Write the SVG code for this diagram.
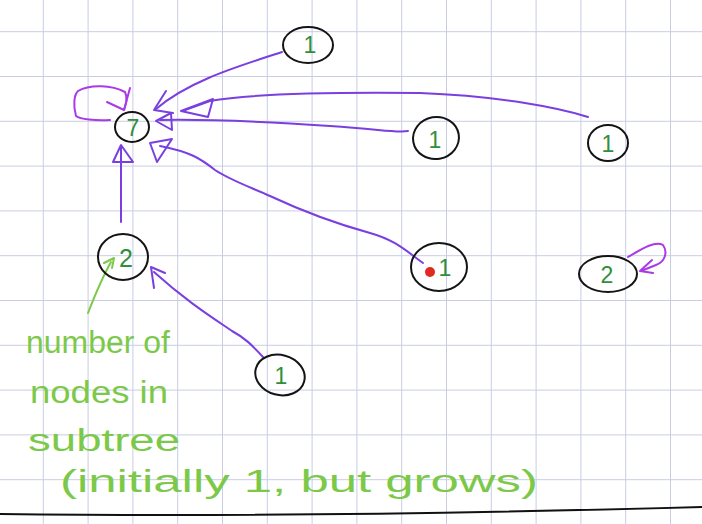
<svg xmlns="http://www.w3.org/2000/svg" width="702" height="524" viewBox="0 0 702 524">
<defs>
<style>
.grid{stroke:#c9cde2;stroke-width:1;fill:none}
.node{fill:none;stroke:#141414;stroke-width:2}
.lbl{font-family:"Liberation Sans",Arial,sans-serif;font-size:23px;fill:#2f8f3a;text-anchor:middle}
.edge{fill:none;stroke:#7a3fe0;stroke-width:2;stroke-linecap:round;stroke-linejoin:round}
.loop{fill:none;stroke:#a93ae6;stroke-width:2;stroke-linecap:round;stroke-linejoin:round}
.note{fill:none;stroke:#7cc94a;stroke-width:2;stroke-linecap:round;stroke-linejoin:round}
.ntext{font-family:"Liberation Sans",Arial,sans-serif;font-size:31px;fill:#7cc94a}
</style>
</defs>
<rect width="702" height="524" fill="#ffffff"/>
<path class="grid" d="M43.3 0V524M88.1 0V524M132.9 0V524M177.7 0V524M222.5 0V524M267.3 0V524M312.1 0V524M356.9 0V524M401.7 0V524M446.5 0V524M491.3 0V524M536.1 0V524M580.9 0V524M625.7 0V524M670.5 0V524M0 31.7H702M0 76.5H702M0 121.3H702M0 166.1H702M0 210.9H702M0 255.7H702M0 300.5H702M0 345.3H702M0 390.1H702M0 434.9H702M0 479.7H702"/>
<path d="M0 514 Q300 518 702 507" fill="none" stroke="#111" stroke-width="2"/>

<g id="connectors">
<path class="edge" d="M282 52 C240 66 190 80 156 109"/>
<path class="edge" d="M166 91 L154 110 L173 113"/>
<path class="edge" d="M588 117 C560 108 500 96 420 93 C330 92 250 94 210 101 L185 110"/>
<path class="edge" d="M181 111 L213 99 L208 117 Z"/>
<path class="edge" d="M408 131 C395 133 380 129 330 126 C270 122 210 119 160 120"/>
<path class="edge" d="M156 121 L171 113 L172 130 Z"/>
<path class="edge" d="M423 263 C405 250 395 240 370 233 C330 222 300 210 270 196 C250 187 230 180 215 170 C200 158 190 152 160 146"/>
<path class="edge" d="M150 143 L172 139 L157 162 Z"/>
<path class="edge" d="M121 222 L121 147"/>
<path class="edge" d="M121 145 L113 162 L133 162 Z"/>
<path class="edge" d="M263 357 C252 345 245 338 232 331 C210 316 185 300 154 272"/>
<path class="edge" d="M151 267 L154 288 M151 267 L165 273"/>
<path class="loop" d="M110 120 C95 121 80 119 76 116 C73 105 74 95 78 91 C90 84 112 85 125 92 C128 98 126 104 124 110"/>
<path class="loop" d="M130 88 L124 110 L107 102"/>
<path class="loop" d="M628 257 C640 250 655 240 663 245 C668 252 665 262 656 265 L641 271"/>
<path class="loop" d="M652 260 L640 271 L653 273"/>
<path class="note" d="M88 313 C95 295 102 278 111 262"/>
<path class="note" d="M104 263 L114 258 L112 268"/>
</g>

<g id="n_top1"><ellipse class="node" cx="308" cy="45" rx="25" ry="18"/><text class="lbl" x="310" y="53">1</text></g>
<g id="n_7"><ellipse class="node" cx="132" cy="127" rx="17" ry="15"/><text class="lbl" x="133" y="136">7</text></g>
<g id="n_mid1"><ellipse class="node" cx="436" cy="138" rx="23" ry="21" transform="rotate(-10 436 138)"/><text class="lbl" x="435" y="148">1</text></g>
<g id="n_right1"><ellipse class="node" cx="608" cy="143" rx="20" ry="18"/><text class="lbl" x="608" y="152">1</text></g>
<g id="n_red1"><ellipse class="node" cx="439" cy="267" rx="28" ry="24"/><circle cx="430" cy="272" r="5" fill="#e02a20"/><text class="lbl" x="445" y="276">1</text></g>
<g id="n_right2"><ellipse class="node" cx="608" cy="274" rx="29" ry="18"/><text class="lbl" x="607" y="283">2</text></g>
<g id="n_left2"><ellipse class="node" cx="123" cy="257" rx="25" ry="23"/><text class="lbl" x="126" y="267" style="font-size:25px">2</text></g>
<g id="n_bot1"><ellipse class="node" cx="280" cy="375" rx="25" ry="20" transform="rotate(15 280 375)"/><text class="lbl" x="281" y="384">1</text></g>

<g id="note">
<text class="ntext" x="26" y="353" textLength="144" lengthAdjust="spacingAndGlyphs">number of</text>
<text class="ntext" x="30" y="403" textLength="138" lengthAdjust="spacingAndGlyphs">nodes in</text>
<text class="ntext" x="28" y="451" textLength="152" lengthAdjust="spacingAndGlyphs">subtree</text>
<text class="ntext" x="60" y="492" textLength="478" lengthAdjust="spacingAndGlyphs">(initially 1, but grows)</text>
</g>
</svg>
